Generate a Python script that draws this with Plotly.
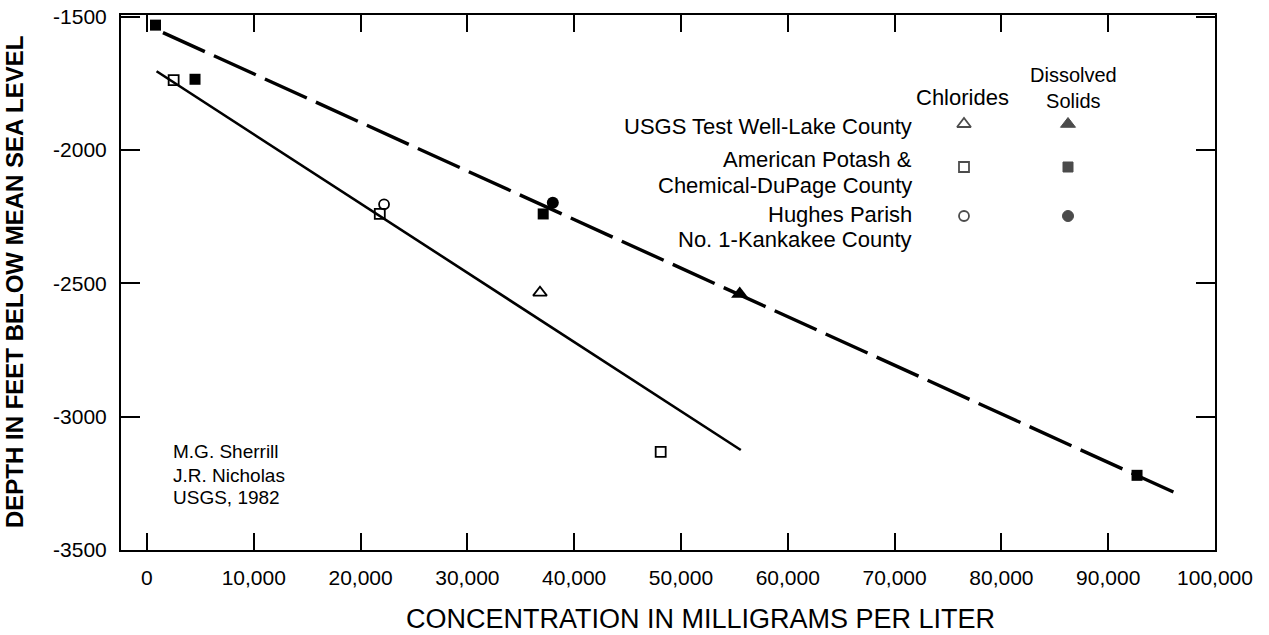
import plotly.graph_objects as go

# ---- data (concentration mg/L, depth ft below mean sea level) ----
usgs_cl_x = [36800]
usgs_cl_y = [-2535]
usgs_ds_x = [55500]
usgs_ds_y = [-2540]

potash_cl_x = [2500, 21800, 48100]
potash_cl_y = [-1738, -2240, -3132]
potash_ds_x = [800, 4500, 37100, 92700]
potash_ds_y = [-1532, -1735, -2240, -3220]

hughes_cl_x = [22200]
hughes_cl_y = [-2204]
hughes_ds_x = [38000]
hughes_ds_y = [-2198]

# fitted trend lines
chloride_fit_x = [900, 55600]
chloride_fit_y = [-1705, -3125]
solids_fit_x = [1500, 96500]
solids_fit_y = [-1560, -3290]

x_ticks = [0, 10000, 20000, 30000, 40000, 50000, 60000, 70000, 80000, 90000, 100000]
y_ticks = [-1500, -2000, -2500, -3000, -3500]
y_tick_text = ["-1500", "-2000", "-2500", "-3000", "-3500"]

legend_lines = ["USGS Test Well-Lake County",
                "American Potash &", "Chemical-DuPage County",
                "Hughes Parish", "No. 1-Kankakee County"]

# ---- layout geometry (pixels) ----
W, H = 1269, 635
L, R, T, B = 121, 1215, 15, 550
X_RANGE = [-2430, 100000]
Y_RANGE = [-3500, -1494]
FONT = "Liberation Sans, Arial, sans-serif"


def fx(p):
    return (p - L) / (R - L)


def fy(p):
    return 1 - (p - T) / (B - T)


def data_x(p):
    return X_RANGE[0] + fx(p) * (X_RANGE[1] - X_RANGE[0])


def data_y(p):
    return Y_RANGE[0] + fy(p) * (Y_RANGE[1] - Y_RANGE[0])


fig = go.Figure()

# trend lines
fig.add_trace(go.Scatter(x=chloride_fit_x, y=chloride_fit_y, mode="lines",
                         line=dict(color="black", width=2.6), hoverinfo="skip"))
fig.add_trace(go.Scatter(x=solids_fit_x, y=solids_fit_y, mode="lines",
                         line=dict(color="black", width=3.4, dash="46px,10px"),
                         hoverinfo="skip"))

# chloride samples (open symbols)
open_line = dict(color="black", width=1.8)
fig.add_trace(go.Scatter(x=usgs_cl_x, y=usgs_cl_y, mode="markers",
                         marker=dict(symbol="triangle-up-open", size=12, color="black", line=open_line)))
fig.add_trace(go.Scatter(x=potash_cl_x, y=potash_cl_y, mode="markers",
                         marker=dict(symbol="square-open", size=10, color="black", line=open_line)))
fig.add_trace(go.Scatter(x=hughes_cl_x, y=hughes_cl_y, mode="markers",
                         marker=dict(symbol="circle-open", size=10, color="black", line=open_line)))

# dissolved solids samples (filled symbols)
fig.add_trace(go.Scatter(x=usgs_ds_x, y=usgs_ds_y, mode="markers",
                         marker=dict(symbol="triangle-up", size=15, color="black")))
fig.add_trace(go.Scatter(x=potash_ds_x, y=potash_ds_y, mode="markers",
                         marker=dict(symbol="square", size=11, color="black")))
fig.add_trace(go.Scatter(x=hughes_ds_x, y=hughes_ds_y, mode="markers",
                         marker=dict(symbol="circle", size=12, color="black")))

# key symbols (pixel placement converted onto the axes)
key_col_px = [964, 1068]
key_row_px = [124, 167, 216]
key_open = ["triangle-up-open", "square-open", "circle-open"]
key_fill = ["triangle-up", "square", "circle"]
key_open_size = [12, 10, 10]
key_fill_size = [13, 10, 11]
key_y = [data_y(p) for p in key_row_px]
fig.add_trace(go.Scatter(x=[data_x(key_col_px[0])] * 3, y=key_y, mode="markers",
                         marker=dict(symbol=key_open, size=key_open_size, color="black",
                                     line=dict(color="black", width=1.8))))
fig.add_trace(go.Scatter(x=[data_x(key_col_px[1])] * 3, y=key_y, mode="markers",
                         marker=dict(symbol=key_fill, size=key_fill_size, color="black",
                                     line=dict(color="black", width=1))))


def label(text, x, y, size=22, xanchor="right", **kw):
    return dict(text=text, x=fx(x), y=fy(y), xref="paper", yref="paper",
                xanchor=xanchor, yanchor="middle", showarrow=False,
                font=dict(size=size, color="black", family=FONT), **kw)


annotations = []
# key text
for txt, y in zip(legend_lines, [126, 159, 185, 214, 239]):
    annotations.append(label(txt, 914, y))
annotations.append(label("Chlorides", 962, 98, xanchor="center"))
annotations.append(label("Dissolved<br>Solids", 1073, 88, size=20, xanchor="center",
                         align="center"))
# credit block
for txt, y in zip(["M.G. Sherrill", "J.R. Nicholas", "USGS, 1982"], [451, 475, 498]):
    annotations.append(label(txt, 171, y, size=19, xanchor="left"))
# axis titles
annotations.append(label("CONCENTRATION IN MILLIGRAMS PER LITER", 700, 619, size=27,
                         xanchor="center"))
annotations.append(label("<b>DEPTH IN FEET BELOW MEAN SEA LEVEL</b>", 14, 282, size=24,
                         xanchor="center", textangle=-90))

fig.update_layout(
    width=W, height=H,
    margin=dict(l=L, r=W - R, t=T, b=H - B, pad=0, autoexpand=False),
    paper_bgcolor="white", plot_bgcolor="white",
    showlegend=False,
    font=dict(family=FONT, color="black"),
    annotations=annotations,
    xaxis=dict(range=X_RANGE, tickvals=x_ticks, tickformat=",d",
               ticks="inside", ticklen=17, tickwidth=2, tickcolor="black",
               showline=True, linecolor="black", linewidth=2, mirror="ticks",
               showgrid=False, zeroline=False, automargin=False, ticklabelstandoff=8,
               tickfont=dict(size=21, color="black", family=FONT)),
    yaxis=dict(range=Y_RANGE, tickvals=y_ticks, ticktext=y_tick_text,
               ticks="inside", ticklen=19, tickwidth=2, tickcolor="black",
               showline=True, linecolor="black", linewidth=2, mirror="ticks",
               showgrid=False, zeroline=False, automargin=False, ticklabelstandoff=8,
               tickfont=dict(size=21, color="black", family=FONT)),
)

fig.write_html("out.html")
